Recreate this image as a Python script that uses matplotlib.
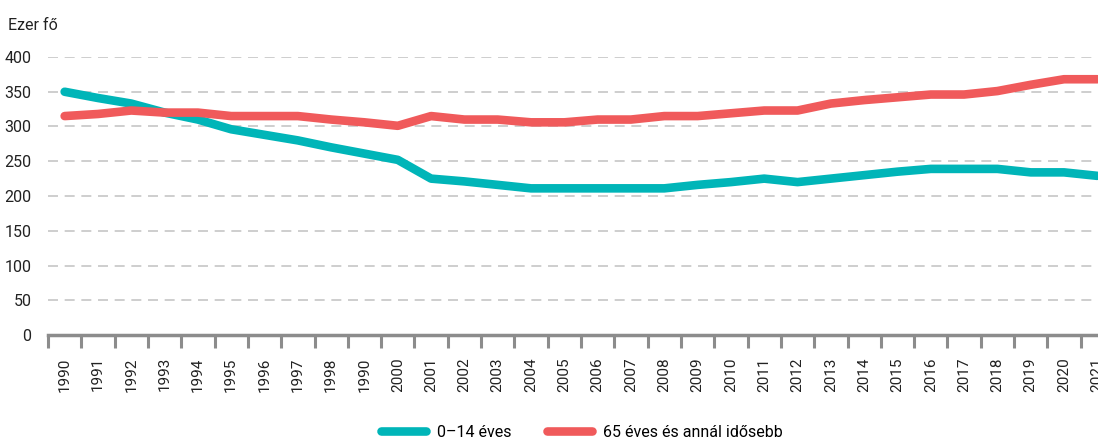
import matplotlib
matplotlib.use('Agg')
import matplotlib.pyplot as plt
import numpy as np

plt.rcParams['font.family'] = ['Roboto', 'DejaVu Sans']

# data (ezer fő)
years = ['1990', '1991', '1992', '1993', '1994', '1995', '1996', '1997', '1998', '1990',
         '2000', '2001', '2002', '2003', '2004', '2005', '2006', '2007', '2008', '2009',
         '2010', '2011', '2012', '2013', '2014', '2015', '2016', '2017', '2018', '2019',
         '2020', '2021']
young = [350, 341, 333, 320, 310, 296, 288, 280, 270, 261,
         252, 225, 221, 216, 211, 211, 211, 211, 211, 216,
         220, 225, 220, 225, 230, 235, 239, 239, 239, 234,
         234, 229]
old = [315, 318, 323, 320, 320, 315, 315, 315, 310, 306,
       301, 315, 310, 310, 306, 306, 310, 310, 315, 315,
       319, 323, 323, 333, 338, 342, 346, 346, 351, 360,
       368, 368]
labels = ['0–14 éves', '65 éves és annál idősebb']
colors = ['#00b5b8', '#f05a5b']

fig = plt.figure(figsize=(10.98, 4.4), dpi=100)
ax = fig.add_axes([48 / 1098, 1 - 335 / 440, 1066 / 1098, 278 / 440])

x = np.arange(len(years))
ax.plot(x, young, color=colors[0], lw=6.2, solid_capstyle='round', label=labels[0], zorder=3)
ax.plot(x, old, color=colors[1], lw=6.2, solid_capstyle='round', label=labels[1], zorder=3)

ax.set_xlim(-0.5, len(years) - 0.5)
ax.set_ylim(0, 400)
ax.set_yticks(range(0, 401, 50))
ax.set_xticks(x)
ax.set_xticklabels(years, rotation=90, fontsize=11, color='#222222')
ax.tick_params(axis='x', which='major', length=0, pad=16)
ax.set_xticks(np.arange(-0.5, len(years)), minor=True)
ax.tick_params(axis='x', which='minor', length=9, width=2.2, color='#8c8c8c', direction='out')
ax.tick_params(axis='y', length=0, labelsize=11.5, pad=12, labelcolor='#222222')

for v in range(50, 401, 50):
    ax.axhline(v, color='#c6c6c6', lw=1.2, ls=(0, (6, 4)), zorder=1)

for s in ['top', 'right', 'left']:
    ax.spines[s].set_visible(False)
ax.spines['bottom'].set_color('#8c8c8c')
ax.spines['bottom'].set_linewidth(2.5)

fig.text(8 / 1098, 1 - 25 / 440, 'Ezer fő', fontsize=11.5, va='center', ha='left', color='#222222')

fig.legend(loc='center', bbox_to_anchor=(0.53, 1 - 432 / 440), ncol=2, frameon=False,
           fontsize=11.5, handlelength=2.8, columnspacing=2.2, handletextpad=0.7)

fig.savefig('out.png', dpi=100)
